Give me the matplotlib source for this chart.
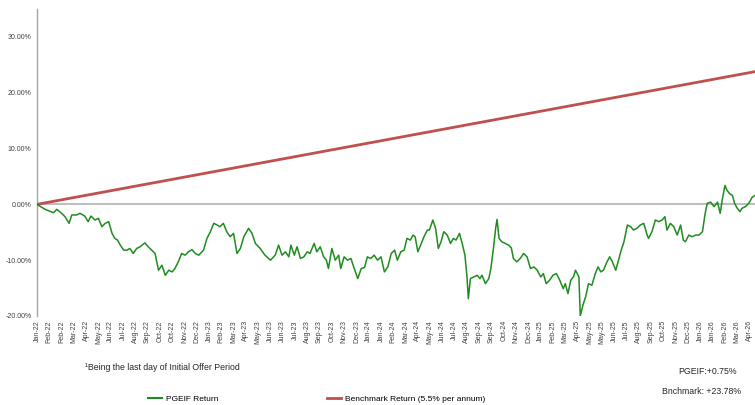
import matplotlib
matplotlib.use("Agg")
import matplotlib.pyplot as plt
from matplotlib.lines import Line2D
from matplotlib.ticker import FuncFormatter

plt.rcParams['font.family'] = ['Liberation Sans', 'DejaVu Sans']

# trading-day index and PGEIF cumulative return (%)
pgeif_day = [0, 12, 24, 29, 36, 41, 47, 51, 58, 63, 70, 75, 79, 85, 90, 95, 100, 105,
             110, 114, 118, 122, 127, 132, 136, 141, 146, 151, 158, 163, 168, 173, 178,
             183, 188, 193, 198, 202, 207, 212, 217, 222, 227, 232, 237, 244, 249, 254,
             259, 264, 268, 273, 278, 283, 288, 293, 298, 303, 310, 315, 320, 327, 334,
             342, 349, 354, 359, 364, 369, 372, 377, 381, 386, 391, 396, 400, 406, 410,
             415, 420, 424, 427, 432, 437, 442, 445, 450, 455, 460, 464, 470, 475, 480,
             484, 489, 494, 499, 504, 509, 514, 519, 524, 528, 533, 538, 542, 547, 551,
             554, 558, 562, 567, 572, 575, 580, 584, 588, 592, 596, 601, 606, 610, 614,
             619, 623, 627, 630, 632, 635, 640, 645, 649, 652, 657, 662, 665, 669, 672,
             674, 677, 681, 686, 691, 695, 698, 703, 708, 713, 718, 723, 728, 733, 738,
             742, 746, 751, 756, 761, 766, 771, 774, 778, 782, 786, 789, 794, 796, 800,
             804, 808, 813, 818, 822, 826, 830, 834, 839, 843, 848, 852, 856, 860, 865,
             870, 874, 879, 884, 889, 894, 896, 901, 906, 911, 916, 920, 923, 928, 933,
             938, 943, 947, 950, 955, 960, 965, 970, 975, 979, 982, 987, 992, 997, 1001,
             1004, 1008, 1011, 1015, 1019, 1022, 1026, 1030, 1033, 1038, 1043, 1048, 1052]
pgeif_ret = [0.0, -0.9, -1.5, -0.9, -1.6, -2.2, -3.4, -1.9, -1.9, -1.6, -2.1, -3.1, -2.1,
             -2.8, -2.5, -4.0, -3.4, -3.1, -5.2, -6.1, -6.4, -7.3, -8.2, -8.2, -7.9, -8.8,
             -7.9, -7.6, -6.9, -7.6, -8.2, -8.8, -11.8, -10.9, -12.7, -11.8, -12.1, -11.5,
             -10.3, -8.8, -9.1, -8.5, -8.1, -8.8, -9.1, -8.2, -6.1, -4.9, -3.4, -3.7, -4.0,
             -3.4, -4.9, -5.8, -5.2, -8.8, -7.9, -5.8, -4.3, -5.2, -7.0, -7.9, -9.1, -10.0,
             -9.1, -7.3, -9.1, -8.5, -9.4, -7.3, -9.1, -7.6, -9.7, -9.4, -8.5, -8.8, -7.0,
             -8.5, -7.6, -9.4, -10.0, -11.5, -7.9, -10.0, -9.1, -11.5, -9.4, -10.0, -9.7,
             -11.2, -13.3, -11.5, -11.3, -9.4, -9.7, -9.1, -10.0, -9.4, -12.1, -11.2, -8.8,
             -8.2, -10.0, -8.5, -8.2, -6.1, -6.4, -5.5, -5.8, -8.5, -7.3, -5.8, -4.6, -4.6,
             -2.8, -4.3, -7.9, -6.7, -4.9, -5.5, -7.0, -6.1, -6.4, -5.2, -7.0, -9.1, -13.0,
             -16.9, -13.3, -13.0, -12.7, -13.3, -12.7, -14.2, -13.3, -11.5, -7.6, -4.3, -2.7,
             -6.1, -6.7, -7.0, -7.3, -7.8, -9.7, -10.3, -9.7, -8.8, -9.4, -11.5, -11.2, -11.8,
             -13.0, -12.4, -14.2, -13.6, -12.7, -12.4, -13.6, -15.1, -14.2, -16.0, -13.6,
             -13.0, -11.8, -13.0, -20.0, -18.0, -16.5, -14.2, -14.5, -12.4, -11.2, -12.1,
             -11.8, -10.6, -9.4, -10.3, -11.8, -10.0, -8.2, -6.7, -3.7, -4.0, -4.6, -4.3,
             -3.7, -3.4, -5.5, -6.1, -4.9, -2.8, -3.1, -2.8, -2.2, -4.6, -3.4, -4.0, -5.5,
             -3.7, -6.4, -6.7, -5.5, -5.8, -5.5, -5.5, -4.9, -1.6, 0.2, 0.4, -0.4, 0.4, -1.6,
             0.8, 3.4, 2.5, 1.9, 1.6, 0.2, -0.7, -1.3, -0.7, -0.4, 0.2, 1.3, 1.6]

bench_day = [0, 1052]
bench_ret = [0.0, 23.78]

tick_labels = ['Jan-22', 'Feb-22', 'Feb-22', 'Mar-22', 'Apr-22', 'May-22', 'Jun-22',
               'Jul-22', 'Aug-22', 'Sep-22', 'Oct-22', 'Oct-22', 'Nov-22', 'Dec-22',
               'Jan-23', 'Feb-23', 'Mar-23', 'Apr-23', 'May-23', 'Jun-23', 'Jun-23',
               'Jul-23', 'Aug-23', 'Sep-23', 'Oct-23', 'Nov-23', 'Dec-23', 'Jan-24',
               'Jan-24', 'Feb-24', 'Mar-24', 'Apr-24', 'May-24', 'Jun-24', 'Jul-24',
               'Aug-24', 'Sep-24', 'Sep-24', 'Oct-24', 'Nov-24', 'Dec-24', 'Jan-25',
               'Feb-25', 'Mar-25', 'Apr-25', 'May-25', 'May-25', 'Jun-25', 'Jul-25',
               'Aug-25', 'Sep-25', 'Oct-25', 'Nov-25', 'Dec-25', 'Jan-26', 'Jan-26',
               'Feb-26', 'Mar-26', 'Apr-26']
tick_step = 18

green = '#1f8c1f'
red = '#c0504d'

fig = plt.figure(figsize=(7.55, 4.05), dpi=100)
ax = fig.add_axes([37 / 755, 89 / 405, 718 / 755, 307 / 405])

ax.plot(bench_day, [v / 100 for v in bench_ret], color=red, lw=2.0, zorder=3)
ax.plot(pgeif_day, [v / 100 for v in pgeif_ret], color=green, lw=1.1, zorder=4)
ax.axhline(0, color='#bfbfbf', lw=1.5, zorder=2)

ax.set_xlim(0, 1052)
ax.set_ylim(-0.20, 0.35)
ax.set_yticks([-0.2, -0.1, 0.0, 0.1, 0.2, 0.3])
ax.yaxis.set_major_formatter(FuncFormatter(lambda v, p: f'{v * 100:.2f}%'))
ax.set_xticks([i * tick_step for i in range(len(tick_labels))])
ax.set_xticklabels(tick_labels, rotation=90)
ax.tick_params(axis='both', length=0, labelsize=5, colors='#404040', pad=3)
ax.tick_params(axis='y', pad=4)

for s in ['top', 'right', 'bottom']:
    ax.spines[s].set_visible(False)
ax.spines['left'].set_color('#a6a6a6')
ax.spines['left'].set_linewidth(1.0)

fig.text(85 / 755, 1 - 368 / 405, '¹Being the last day of Initial Offer Period',
         fontsize=6.3, va='center', ha='left', color='#262626')
fig.text(678 / 755, 1 - 371 / 405, 'PGEIF:+0.75%', fontsize=6.3, va='center', ha='left',
         color='#262626')
fig.text(662 / 755, 1 - 391 / 405, 'Bnchmark: +23.78%', fontsize=6.3, va='center',
         ha='left', color='#262626')

handles = [Line2D([], [], color=green, lw=1.5), Line2D([], [], color=red, lw=2.0)]
fig.legend(handles, ['PGEIF Return', 'Benchmark Return (5.5% per annum)'],
           loc='center left', bbox_to_anchor=(148 / 755, 1 - 399 / 405), ncol=2,
           frameon=False, fontsize=6, handlelength=1.7, handletextpad=0.5,
           columnspacing=13, borderpad=0, borderaxespad=0)

fig.savefig('out.png', dpi=100)
